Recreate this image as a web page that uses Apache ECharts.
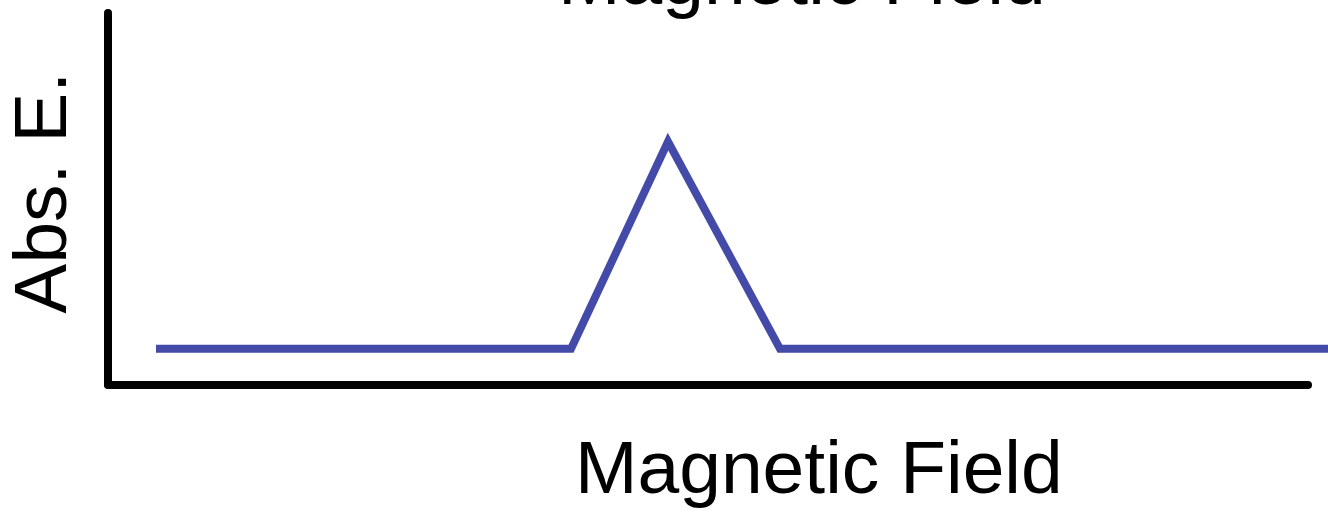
<!DOCTYPE html>
<html>
<head>
<meta charset="utf-8">
<script src="https://cdn.jsdelivr.net/npm/echarts@6/dist/echarts.min.js"></script>
<style>
  html, body { margin: 0; padding: 0; background: #ffffff; }
  #chart { width: 1328px; height: 512px; }
</style>
</head>
<body>
<div id="chart"></div>
<script>
// Absorption signal versus magnetic field: flat baseline with a single triangular peak
const fieldValues = [4.8, 46.3, 56, 67.2, 122];
const absorption = [0.96, 0.96, 6.54, 0.96, 0.96];
const topTitle = 'Magnetic Field';
const xName = 'Magnetic Field';
const yName = 'Abs. E.';

const FONT = '"Liberation Sans", Arial, sans-serif';
const BLUE = '#434AA8';
const TEXT = { fontFamily: FONT, fontSize: 75, fontWeight: 'normal', color: '#000' };

const chart = echarts.init(document.getElementById('chart'), null, { renderer: 'canvas' });

const hiddenAxis = {
  axisLine: { show: false },
  axisTick: { show: false },
  axisLabel: { show: false },
  splitLine: { show: false }
};
const framedAxis = {
  axisLine: { show: true, lineStyle: { color: '#000', width: 8 } },
  axisTick: { show: false },
  axisLabel: { show: false },
  splitLine: { show: false }
};

chart.setOption({
  animation: false,
  backgroundColor: '#ffffff',
  title: [
    { text: topTitle, left: 558, top: -54, padding: 0, textStyle: TEXT },
    { text: xName, left: 575, top: 435, padding: 0, textStyle: TEXT }
  ],
  grid: [
    // plotting area: the trace runs on past the end of the drawn axis
    { left: 108, right: 0, top: 13, bottom: 127.5, containLabel: false, outerBoundsMode: 'none' },
    // frame: the two axis lines
    { left: 108, right: 20, top: 13, bottom: 127.5, containLabel: false, outerBoundsMode: 'none' }
  ],
  xAxis: [
    Object.assign({ type: 'value', gridIndex: 0, min: 0, max: 122 }, hiddenAxis),
    Object.assign({ type: 'value', gridIndex: 1, min: 0, max: 120 }, framedAxis)
  ],
  yAxis: [
    Object.assign({ type: 'value', gridIndex: 0, min: 0, max: 10 }, hiddenAxis),
    Object.assign({
      type: 'value', gridIndex: 1, min: 0, max: 10,
      name: yName,
      nameLocation: 'middle',
      nameRotate: 90,
      nameGap: 25,
      nameTextStyle: { fontFamily: FONT, fontSize: 75, color: '#000', padding: [0, 0, 0, 12] }
    }, framedAxis)
  ],
  series: [
    {
      type: 'line',
      xAxisIndex: 0,
      yAxisIndex: 0,
      data: fieldValues.map((x, i) => [x, absorption[i]]),
      showSymbol: false,
      clip: false,
      lineStyle: { color: BLUE, width: 8, cap: 'butt', join: 'miter' }
    }
  ]
});
</script>
</body>
</html>
